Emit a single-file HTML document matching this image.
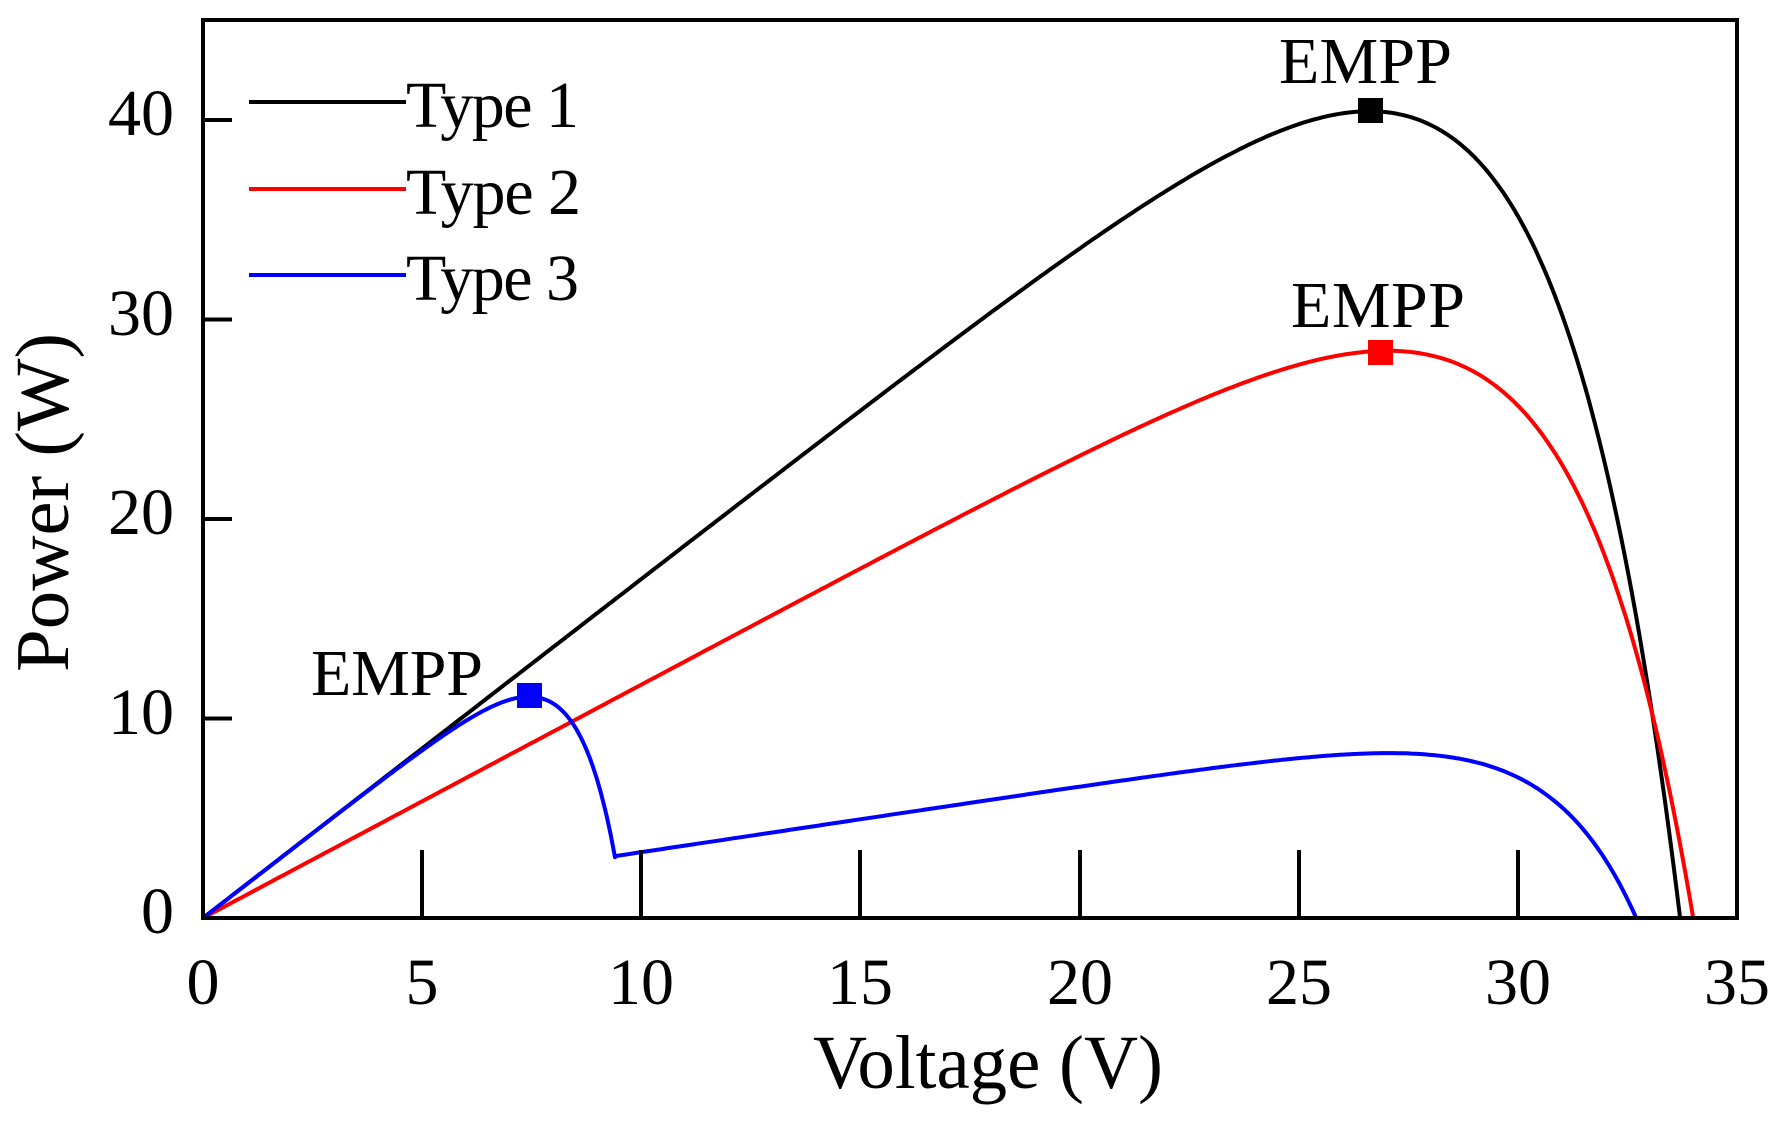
<!DOCTYPE html>
<html><head><meta charset="utf-8">
<style>
html,body{margin:0;padding:0;background:#fff;}
svg{display:block;}
text{font-family:"Liberation Serif",serif;fill:#000;}
</style></head>
<body>
<svg id="s" width="1781" height="1125" viewBox="0 0 1781 1125" xmlns="http://www.w3.org/2000/svg">
<rect x="0" y="0" width="1781" height="1125" fill="#fff"/>
<g id="curves" fill="none" stroke-width="4" stroke-linejoin="round"></g>
<rect x="203" y="20" width="1534" height="898" fill="none" stroke="#000" stroke-width="4"/>
<g stroke="#000" stroke-width="4">
<line x1="422" y1="918" x2="422" y2="850"/>
<line x1="641" y1="918" x2="641" y2="850"/>
<line x1="860" y1="918" x2="860" y2="850"/>
<line x1="1080" y1="918" x2="1080" y2="850"/>
<line x1="1299" y1="918" x2="1299" y2="850"/>
<line x1="1518" y1="918" x2="1518" y2="850"/>
<line x1="203" y1="718.5" x2="232" y2="718.5"/>
<line x1="203" y1="519" x2="232" y2="519"/>
<line x1="203" y1="319.5" x2="232" y2="319.5"/>
<line x1="203" y1="120" x2="232" y2="120"/>
</g>
<g font-size="66" text-anchor="middle">
<text x="203" y="1004">0</text>
<text x="422" y="1004">5</text>
<text x="641" y="1004">10</text>
<text x="860" y="1004">15</text>
<text x="1080" y="1004">20</text>
<text x="1299" y="1004">25</text>
<text x="1518" y="1004">30</text>
<text x="1737" y="1004">35</text>
</g>
<g font-size="66" text-anchor="end">
<text x="174" y="933">0</text>
<text x="174" y="734">10</text>
<text x="174" y="534">20</text>
<text x="174" y="335">30</text>
<text x="174" y="135">40</text>
</g>
<text x="813" y="1088" font-size="76" textLength="350" lengthAdjust="spacingAndGlyphs">Voltage (V)</text>
<text transform="translate(68,672) rotate(-90)" font-size="76" textLength="339" lengthAdjust="spacingAndGlyphs">Power (W)</text>
<line x1="249" y1="102" x2="406" y2="102" stroke="#000" stroke-width="4"/>
<line x1="249" y1="189" x2="406" y2="189" stroke="#f00" stroke-width="4"/>
<line x1="249" y1="275" x2="406" y2="275" stroke="#00f" stroke-width="4"/>
<g font-size="66">
<text x="406" y="127" textLength="173">Type 1</text>
<text x="406" y="214" textLength="175">Type 2</text>
<text x="406" y="300" textLength="173">Type 3</text>
<text x="1279" y="83" textLength="173">EMPP</text>
<text x="1291" y="327" textLength="174">EMPP</text>
<text x="311" y="695" textLength="172">EMPP</text>
</g>
<g id="markers">
<rect x="1358" y="98" width="25" height="25" fill="#000"/>
<rect x="1368" y="340" width="25" height="25" fill="#f00"/>
<rect x="517" y="683" width="25" height="25" fill="#00f"/>
</g>
</svg>
<script>
(function(){
function X(v){return 203+v*43.83;}
function Y(p){return 918-p*19.95;}
function pts(f,a,b,n){var s=[];for(var i=0;i<=n;i++){var v=a+(b-a)*i/n;var p=f(v);s.push(X(v).toFixed(1)+","+Y(Math.max(p,0)).toFixed(1));}return s;}
function t1(v){return v*1.70*(1-Math.exp((v-33.7)/3.16));}
function t2(v){return v*1.17*(1-Math.exp((v-34.0)/3.04));}
function b1(v){return v*1.70*(1-Math.exp((v-9.62)/1.04));}
function b2(v){return v*0.33*(1-Math.exp((v-32.7)/2.17));}
var g=document.getElementById('curves');
function add(p,c){var e=document.createElementNS('http://www.w3.org/2000/svg','polyline');e.setAttribute('points',p.join(' '));e.setAttribute('stroke',c);g.appendChild(e);}
add(pts(t1,0,33.7,400),'#000');
add(pts(t2,0,34.0,400),'#f00');
var p=pts(b1,0,9.4,200).concat(pts(b2,9.4,32.7,300));
add(p,'#00f');
})();
</script>
</body></html>
